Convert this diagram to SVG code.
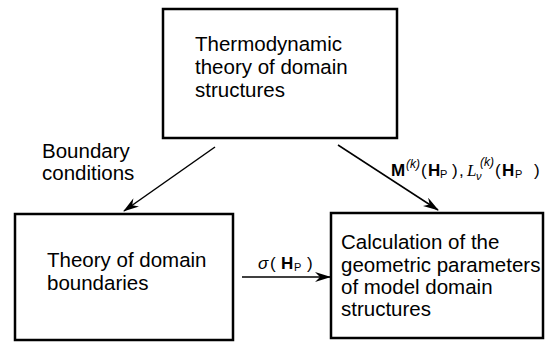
<svg xmlns="http://www.w3.org/2000/svg" width="546" height="343" viewBox="0 0 546 343">
<style>
.box{fill:#fff;stroke:#000;stroke-width:2.5}
.t{font-family:"Liberation Sans",Arial,sans-serif;font-size:20.5px;fill:#000}
.lab{font-family:"Liberation Sans",Arial,sans-serif;font-size:17px;fill:#000}
.b{font-weight:bold}
.sub{font-size:11px}
.sup{font-size:12px;font-style:italic}
.conn{stroke:#000;stroke-width:1.5;fill:none;marker-end:url(#ah)}
</style>
<defs>
<marker id="ah" viewBox="0 0 16 10" refX="15" refY="5" markerWidth="16" markerHeight="10" markerUnits="userSpaceOnUse" orient="auto">
<path d="M0,0 L16,5 L0,10 L5,5 Z" fill="#000"/>
</marker>
</defs>
<rect width="546" height="343" fill="#fff"/>
<g id="top">
<rect class="box" x="163" y="9" width="234" height="129"/>
<text class="t" x="195" y="51">Thermodynamic</text>
<text class="t" x="195" y="74">theory of domain</text>
<text class="t" x="195" y="97">structures</text>
</g>
<g id="left">
<rect class="box" x="15" y="214" width="218" height="126"/>
<text class="t" x="47" y="267">Theory of domain</text>
<text class="t" x="47" y="290">boundaries</text>
</g>
<g id="right">
<rect class="box" x="331" y="213" width="212" height="125"/>
<text class="t" x="341" y="249">Calculation of the</text>
<text class="t" x="341" y="272">geometric parameters</text>
<text class="t" x="341" y="294">of model domain</text>
<text class="t" x="341" y="316">structures</text>
</g>
<g id="connectors">
<line class="conn" x1="215" y1="147" x2="124" y2="211"/>
<line class="conn" x1="338" y1="145" x2="438" y2="210"/>
<line class="conn" x1="242" y1="277" x2="330" y2="277"/>
</g>
<g id="labels">
<text class="t" x="42" y="158">Boundary</text>
<text class="t" x="42" y="180">conditions</text>
<text class="lab" y="269"><tspan x="258" font-style="italic">σ</tspan><tspan x="270">(</tspan><tspan x="281" class="b">H</tspan><tspan x="294" y="271" class="sub">P</tspan><tspan x="307" y="269">)</tspan></text>
<text class="lab" y="176"><tspan x="391" class="b">M</tspan><tspan x="406" y="168" class="sup">(k)</tspan><tspan x="421" y="176">(</tspan><tspan x="428" class="b">H</tspan><tspan x="440" y="178" class="sub">P</tspan><tspan x="452" y="176">)</tspan><tspan x="459">,</tspan><tspan x="467" font-style="italic" font-family="Liberation Serif, serif">L</tspan><tspan x="476" y="180" class="sub" font-style="italic">ν</tspan><tspan x="480" y="166" class="sup">(k)</tspan><tspan x="495" y="176">(</tspan><tspan x="502" class="b">H</tspan><tspan x="515" y="178" class="sub">P</tspan><tspan x="534" y="176">)</tspan></text>
</g>
</svg>
